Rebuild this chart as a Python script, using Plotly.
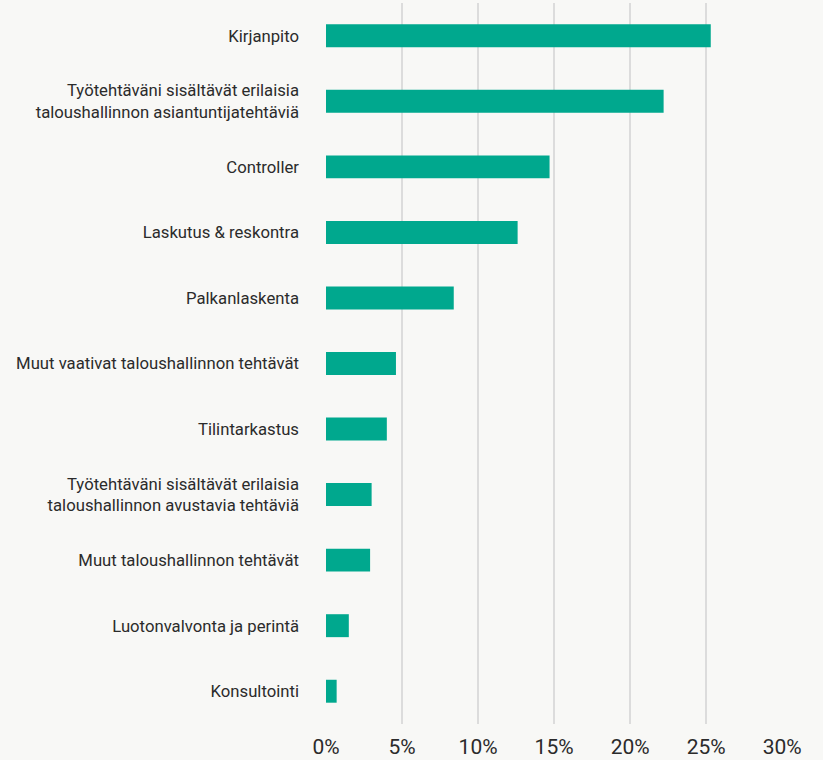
import plotly.graph_objects as go

categories = [
    "Kirjanpito",
    "Työtehtäväni sisältävät erilaisia<br>taloushallinnon asiantuntijatehtäviä",
    "Controller",
    "Laskutus & reskontra",
    "Palkanlaskenta",
    "Muut vaativat taloushallinnon tehtävät",
    "Tilintarkastus",
    "Työtehtäväni sisältävät erilaisia<br>taloushallinnon avustavia tehtäviä",
    "Muut taloushallinnon tehtävät",
    "Luotonvalvonta ja perintä",
    "Konsultointi",
]
values = [25.3, 22.2, 14.7, 12.6, 8.4, 4.6, 4.0, 3.0, 2.9, 1.5, 0.7]
tick_vals = [0, 5, 10, 15, 20, 25, 30]
tick_text = ["0%", "5%", "10%", "15%", "20%", "25%", "30%"]

fig = go.Figure(go.Bar(
    y=categories, x=values, orientation="h",
    marker=dict(color="#00a88e", line=dict(width=0)),
    width=0.35,
))

fig.update_layout(
    width=823, height=760,
    paper_bgcolor="#f8f8f6", plot_bgcolor="#f8f8f6",
    margin=dict(l=326, r=40, t=3, b=36),
    font=dict(family="Roboto, sans-serif", color="#2b2b2b"),
    showlegend=False,
)
fig.update_xaxes(
    range=[0, 30.05], tickvals=tick_vals, ticktext=tick_text,
    showgrid=True, gridcolor="#dcdcdc", gridwidth=2,
    zeroline=False, showline=False, automargin=False,
    tickfont=dict(size=21, color="#2b2b2b"), ticks="",
    ticklabelstandoff=8,
)
fig.update_yaxes(
    autorange="reversed", categoryorder="array", categoryarray=categories,
    showgrid=False, zeroline=False, showline=False, ticks="", automargin=False,
    tickfont=dict(size=16.7, color="#2b2b2b"),
    ticklabelstandoff=26,
)

fig.write_html(
    "out.html",
    config={"displayModeBar": False},
    post_script="document.body.style.margin='0';document.body.style.padding='0';"
                "document.body.style.background='#f8f8f6';"
                "document.body.style.overflow='hidden';",
)
